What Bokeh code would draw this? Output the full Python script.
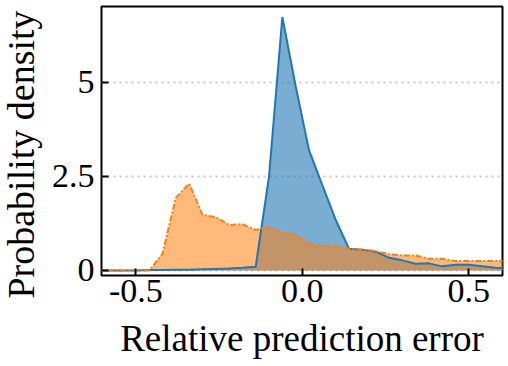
import math
from bokeh.plotting import figure
from bokeh.models import FixedTicker, Range1d, Label
from bokeh.embed import file_html
from bokeh.resources import INLINE

# Bin centres of the density estimate
x_vals = [-0.62, -0.58, -0.54, -0.50, -0.46, -0.42, -0.38, -0.34, -0.30, -0.26, -0.22,
          -0.18, -0.14, -0.10, -0.06, -0.02, 0.02, 0.06, 0.10, 0.14, 0.18,
          0.22, 0.26, 0.30, 0.34, 0.38, 0.42, 0.46, 0.50, 0.54, 0.58, 0.62]
blue_density = [0.0, 0.0, 0.0, 0.0, 0.01, 0.01, 0.02, 0.02, 0.03, 0.04, 0.05,
                0.07, 0.10, 2.50, 6.74, 4.90, 3.20, 2.27, 1.35, 0.58, 0.55,
                0.50, 0.34, 0.27, 0.18, 0.19, 0.11, 0.15, 0.15, 0.11, 0.07, 0.06]
orange_density = [0.0, 0.0, 0.0, 0.0, 0.0, 0.44, 1.93, 2.31, 1.48, 1.42, 1.21,
                  1.23, 1.08, 1.15, 1.00, 0.95, 0.71, 0.65, 0.66, 0.58, 0.55,
                  0.52, 0.43, 0.40, 0.40, 0.31, 0.31, 0.25, 0.25, 0.25, 0.25, 0.25]
zeros = [0.0] * len(x_vals)

x_ticks = [-0.5, 0.0, 0.5]
x_tick_labels = ["-0.5", "0.0", "0.5"]
y_ticks = [0, 2.5, 5]
y_tick_labels = ["0", "2.5", "5"]
x_title = "Relative prediction error"
y_title = "Probability density"

BLUE = "#1f77b4"
ORANGE = "#ff7f0e"
FONT = "Liberation Serif"

p = figure(width=508, height=366, output_backend="svg", toolbar_location=None,
           x_range=Range1d(-0.603, 0.601), y_range=Range1d(-0.133, 7.02),
           min_border_top=6, min_border_right=6, min_border_left=101, min_border_bottom=91)

p.background_fill_color = "white"
p.border_fill_color = "white"
p.outline_line_color = "black"
p.outline_line_width = 2

p.varea(x=x_vals, y1=zeros, y2=blue_density, fill_color=BLUE, fill_alpha=0.6)
p.varea(x=x_vals, y1=zeros, y2=orange_density, fill_color=ORANGE, fill_alpha=0.55)
p.line(x_vals, blue_density, line_color=BLUE, line_width=2)
p.line(x_vals, orange_density, line_color=ORANGE, line_width=2, line_dash="6 2 2 2")

p.xgrid.visible = False
p.ygrid.ticker = FixedTicker(ticks=y_ticks)
p.ygrid.grid_line_color = "#c8c8c8"
p.ygrid.grid_line_width = 2
p.ygrid.grid_line_dash = "2 4"

p.xaxis.ticker = FixedTicker(ticks=x_ticks)
p.xaxis.major_label_overrides = {t: l for t, l in zip(x_ticks, x_tick_labels)}
p.yaxis.ticker = FixedTicker(ticks=y_ticks)
p.yaxis.major_label_overrides = {t: l for t, l in zip(y_ticks, y_tick_labels)}

for ax in (p.xaxis[0], p.yaxis[0]):
    ax.axis_line_color = None
    ax.major_tick_in = 7
    ax.major_tick_out = 0
    ax.major_tick_line_color = "black"
    ax.major_tick_line_width = 2
    ax.minor_tick_line_color = None
    ax.major_label_text_font = FONT
    ax.major_label_text_font_size = "34px"
    ax.major_label_text_color = "black"
    ax.axis_label_text_font = FONT
    ax.axis_label_text_font_size = "37px"
    ax.axis_label_text_font_style = "normal"
    ax.axis_label_text_color = "black"

p.xaxis.axis_label = x_title
p.xaxis.major_label_standoff = 4
p.xaxis.axis_label_standoff = 13
p.yaxis.major_label_standoff = 7

# y title as a label in the left side panel, centred a little below the frame centre
ylab = Label(x=14, y=121, x_units="screen", y_units="screen", text=y_title,
             angle=math.pi / 2, text_align="center", text_baseline="middle",
             text_font=FONT, text_font_size="38px", text_color="black")
p.add_layout(ylab, "left")

open("out.html", "w").write(file_html(p, INLINE))
